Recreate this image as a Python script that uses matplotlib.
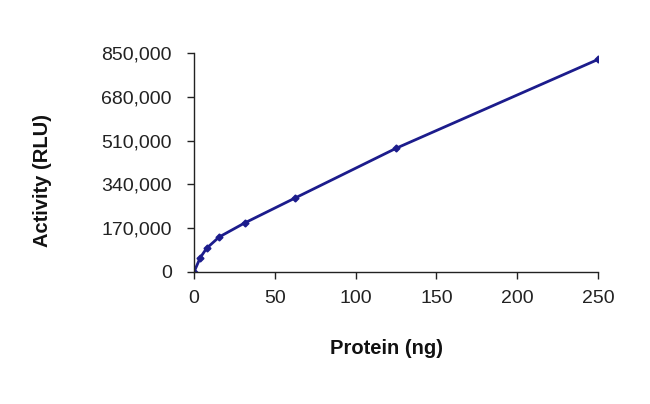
import numpy as np
import matplotlib
matplotlib.use('Agg')
import matplotlib.pyplot as plt
from matplotlib.ticker import FuncFormatter

plt.rcParams['font.family'] = ['Liberation Sans', 'DejaVu Sans']

#%% Data
protein_ng = [0, 3.9, 7.8, 15.6, 31.25, 62.5, 125, 250]
activity_rlu = [0, 56000, 92000, 136000, 190000, 287000, 480000, 825000]
xticks = [0, 50, 100, 150, 200, 250]
yticks = [0, 170000, 340000, 510000, 680000, 850000]

#%% Plot
line_color = '#1c1c8c'
fig = plt.figure(figsize=(6.5, 4.04), dpi=100)
ax = fig.add_axes([194/650, 1 - 272/404, (598 - 194)/650, (272 - 53)/404])

ax.plot(protein_ng, activity_rlu, color=line_color, lw=2.0,
        marker='D', ms=3.5, mec=line_color, mfc=line_color)

ax.set_xlim(0, 250)
ax.set_ylim(0, 850000)
ax.set_xticks(xticks)
ax.set_yticks(yticks)
ax.yaxis.set_major_formatter(FuncFormatter(lambda v, p: f'{int(v):,}'))

for s in ['top', 'right']:
    ax.spines[s].set_visible(False)
for s in ['left', 'bottom']:
    ax.spines[s].set_color('#222222')
    ax.spines[s].set_linewidth(1.0)
ax.tick_params(direction='out', length=5, width=1, colors='#222222',
               labelsize=14, labelcolor='#222222')
ax.tick_params(axis='y', pad=11)
ax.tick_params(axis='x', pad=8)

ax.set_xlabel('Protein (ng)', fontsize=14.5, fontweight='bold', color='#111111')
ax.set_ylabel('Activity (RLU)', fontsize=14.5, fontweight='bold', color='#111111')
ax.xaxis.set_label_coords((386 - 194)/404, -(339 - 272)/219)
ax.yaxis.set_label_coords(-(194 - 52)/404, (272 - 180)/219)

fig.savefig('out.png', dpi=100)
